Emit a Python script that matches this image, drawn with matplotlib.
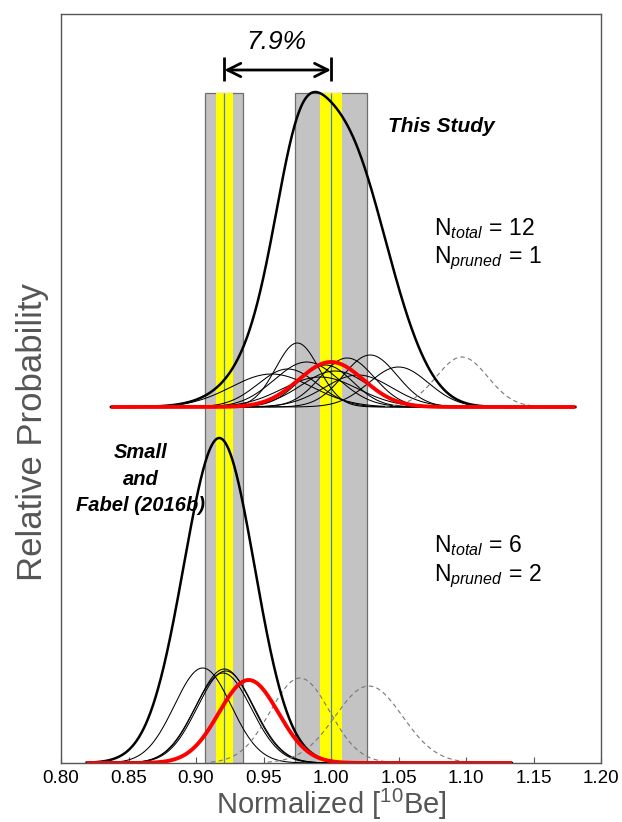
import numpy as np
import matplotlib
matplotlib.use("Agg")
import matplotlib.pyplot as plt

plt.rcParams['font.family'] = ['Liberation Sans', 'DejaVu Sans']
plt.rcParams['mathtext.fontset'] = 'custom'
plt.rcParams['mathtext.rm'] = 'Liberation Sans'
plt.rcParams['mathtext.it'] = 'Liberation Sans:italic'
plt.rcParams['mathtext.bf'] = 'Liberation Sans:bold'

# ---------------- data ----------------
x_ticks = [0.80, 0.85, 0.90, 0.95, 1.00, 1.05, 1.10, 1.15, 1.20]
x_ticklabels = ["0.80", "0.85", "0.90", "0.95", "1.00", "1.05", "1.10", "1.15", "1.20"]

band_centers = [0.921, 1.000]
band_grey_half = [0.014, 0.027]
band_yellow_half = [0.0065, 0.008]
band_top = 670

# upper panel (This Study)
upper_base = 356
upper_range = (0.837, 1.181)
upper_mu = [0.975, 0.982, 0.956, 1.012, 1.029, 1.050, 1.003, 0.992, 1.020, 0.968, 0.996]
upper_sigma = [0.016, 0.024, 0.030, 0.020, 0.020, 0.022, 0.025, 0.028, 0.025, 0.022, 0.020]
upper_peak = [64, 45, 33, 49, 52, 40, 36, 30, 32, 38, 42]
upper_pruned_mu = [1.097]
upper_pruned_sigma = [0.019]
upper_pruned_peak = [50]
upper_red = (1.000, 0.024, 45)
upper_sum_peak = 315
upper_sum_extra_sigma = 0.0

# lower panel (Small and Fabel 2016b)
lower_base = 0
lower_range = (0.819, 1.134)
lower_mu = [0.905, 0.920, 0.921, 0.922]
lower_sigma = [0.021, 0.021, 0.021, 0.021]
lower_peak = [95, 90, 94, 92]
lower_pruned_mu = [0.977, 1.028]
lower_pruned_sigma = [0.022, 0.025]
lower_pruned_peak = [85, 77]
lower_red = (0.939, 0.022, 83)
lower_sum_peak = 325
lower_sum_extra_sigma = 0.014

arrow_span = (0.921, 1.000)
arrow_label = "7.9%"

n_labels = [
    (528, 'total', '12'),
    (500, 'pruned', '1'),
    (211, 'total', '6'),
    (182, 'pruned', '2'),
]


def gauss(x, mu, s, h):
    return h * np.exp(-0.5 * ((x - mu) / s) ** 2)


fig = plt.figure(figsize=(6.22, 8.22), dpi=100)
ax = fig.add_axes([61 / 622, 59 / 822, 540 / 622, 749 / 822])
ax.set_xlim(0.80, 1.20)
ax.set_ylim(0, 749)

# bands
for c, gh, yh in zip(band_centers, band_grey_half, band_yellow_half):
    ax.bar(c, band_top, width=2 * gh, bottom=0, color='#c3c3c3',
           edgecolor='#6e6e6e', linewidth=0.9, zorder=1)
    ax.bar(c, band_top, width=2 * yh, bottom=0, color='#ffff00',
           edgecolor='none', linewidth=0, zorder=1.5)
    ax.vlines(c, 0, band_top, color='#4f7fc0', lw=0.9, zorder=1.6)


def panel(base, xr, mu, sig, pk, pmu, psig, ppk, red, sum_peak, extra):
    x = np.linspace(xr[0], xr[1], 1200)
    total = np.zeros_like(x)
    for m, s, h in zip(mu, sig, pk):
        y = gauss(x, m, s, h)
        se = np.hypot(s, extra)
        total += gauss(x, m, se, h * s / se)
        ax.plot(x, base + y, color='k', lw=0.75, zorder=3)
    for m, s, h in zip(pmu, psig, ppk):
        xx = np.linspace(m - 3 * s, m + 3 * s, 400)
        ax.plot(xx, base + gauss(xx, m, s, h), color='#777777', lw=0.8,
                dashes=(4, 3), zorder=3)
    total = total * sum_peak / total.max()
    ax.plot(x, base + total, color='k', lw=1.8, zorder=3.5)
    ax.plot(x, base + gauss(x, *red), color='#ff0000', lw=2.8, zorder=4,
            solid_capstyle='butt')


panel(upper_base, upper_range, upper_mu, upper_sigma, upper_peak,
      upper_pruned_mu, upper_pruned_sigma, upper_pruned_peak, upper_red,
      upper_sum_peak, upper_sum_extra_sigma)
panel(lower_base, lower_range, lower_mu, lower_sigma, lower_peak,
      lower_pruned_mu, lower_pruned_sigma, lower_pruned_peak, lower_red,
      lower_sum_peak, lower_sum_extra_sigma)

# arrow
ax.vlines(list(arrow_span), 682, 706, color='k', lw=2, zorder=5)
ax.annotate('', xy=(arrow_span[1], 693), xytext=(arrow_span[0], 693),
            arrowprops=dict(arrowstyle='<->', lw=2, color='k', mutation_scale=24,
                            shrinkA=0, shrinkB=0), zorder=5)
ax.text(0.9595, 721, arrow_label, ha='center', va='center', fontsize=19, style='italic')

# annotations
ax.text(1.082, 636, 'This Study', ha='center', va='center', fontsize=15,
        style='italic', weight='bold')
ax.text(0.859, 284, 'Small\nand\nFabel (2016b)', ha='center', va='center', fontsize=14.5,
        style='italic', weight='bold', linespacing=1.5)

for yb, sub, val in n_labels:
    ax.text(1.076, yb, r'$\mathrm{N}_{\mathit{%s}}\,\mathrm{=}\,\mathrm{%s}$' % (sub, val),
            fontsize=16.5, va='baseline')

# axes styling
ax.set_xticks(x_ticks)
ax.set_xticklabels(x_ticklabels, fontsize=13.5)
ax.set_yticks([])
ax.tick_params(axis='x', direction='in', length=4, width=0.8, color='#555555', pad=5)
for sp in ax.spines.values():
    sp.set_color('#555555')
    sp.set_linewidth(1.0)

ax.set_xlabel(r'Normalized [$^{\mathregular{10}}$Be]', fontsize=21, color='#555555', labelpad=0)
ax.set_ylabel('Relative Probability', fontsize=25, color='#555555')
ax.yaxis.set_label_coords(-0.022, 0.442)

fig.savefig('out.png', dpi=100)
